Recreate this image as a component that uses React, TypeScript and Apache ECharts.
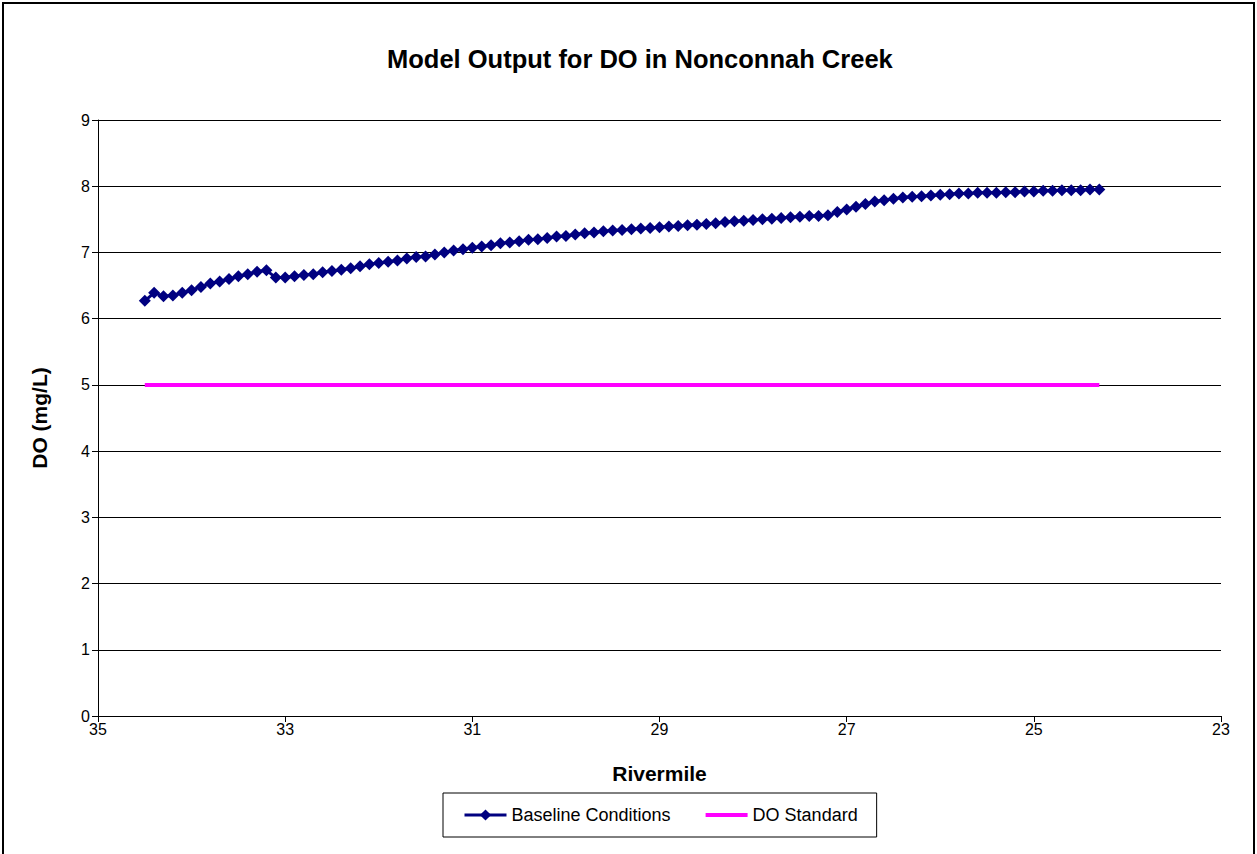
import React, { useEffect, useRef } from "react";
import * as echarts from "echarts";

const riverMile = [
  34.5, 34.4, 34.3, 34.2, 34.1, 34.0, 33.9, 33.8, 33.7, 33.6,
  33.5, 33.4, 33.3, 33.2, 33.1, 33.0, 32.9, 32.8, 32.7, 32.6,
  32.5, 32.4, 32.3, 32.2, 32.1, 32.0, 31.9, 31.8, 31.7, 31.6,
  31.5, 31.4, 31.3, 31.2, 31.1, 31.0, 30.9, 30.8, 30.7, 30.6,
  30.5, 30.4, 30.3, 30.2, 30.1, 30.0, 29.9, 29.8, 29.7, 29.6,
  29.5, 29.4, 29.3, 29.2, 29.1, 29.0, 28.9, 28.8, 28.7, 28.6,
  28.5, 28.4, 28.3, 28.2, 28.1, 28.0, 27.9, 27.8, 27.7, 27.6,
  27.5, 27.4, 27.3, 27.2, 27.1, 27.0, 26.9, 26.8, 26.7, 26.6,
  26.5, 26.4, 26.3, 26.2, 26.1, 26.0, 25.9, 25.8, 25.7, 25.6,
  25.5, 25.4, 25.3, 25.2, 25.1, 25.0, 24.9, 24.8, 24.7, 24.6,
  24.5, 24.4, 24.3,
];

const baselineDO = [
  6.27, 6.39, 6.34, 6.35, 6.39, 6.43, 6.48, 6.53, 6.56, 6.60,
  6.64, 6.67, 6.71, 6.73, 6.62, 6.62, 6.64, 6.66, 6.67, 6.70,
  6.72, 6.74, 6.76, 6.79, 6.82, 6.84, 6.86, 6.88, 6.91, 6.93,
  6.94, 6.97, 7.00, 7.03, 7.05, 7.07, 7.09, 7.11, 7.14, 7.15,
  7.17, 7.19, 7.20, 7.22, 7.24, 7.25, 7.27, 7.29, 7.30, 7.32,
  7.33, 7.34, 7.35, 7.36, 7.37, 7.38, 7.39, 7.40, 7.41, 7.42,
  7.43, 7.44, 7.46, 7.47, 7.48, 7.49, 7.50, 7.51, 7.52, 7.53,
  7.54, 7.55, 7.55, 7.56, 7.61, 7.65, 7.69, 7.73, 7.77, 7.79,
  7.81, 7.83, 7.84, 7.85, 7.86, 7.87, 7.88, 7.89, 7.89, 7.90,
  7.90, 7.90, 7.91, 7.91, 7.92, 7.92, 7.93, 7.93, 7.94, 7.94,
  7.94, 7.95, 7.95,
];

const standardMile = [34.5, 24.3];
const standardDO = [5, 5];

const xTickLabels = [35, 33, 31, 29, 27, 25, 23];
const yTickLabels = [0, 1, 2, 3, 4, 5, 6, 7, 8, 9];

const FONT = "'Liberation Sans', Arial, sans-serif";

export default function App() {
  const ref = useRef<HTMLDivElement>(null);

  useEffect(() => {
    if (!ref.current) return;
    const chart = echarts.init(ref.current, null, { renderer: "svg" });
    const baseline = riverMile.map((m, i) => [m, baselineDO[i]]);
    const standard = standardMile.map((m, i) => [m, standardDO[i]]);

    chart.setOption({
      animation: false,
      backgroundColor: "#ffffff",
      textStyle: { fontFamily: FONT },
      title: {
        text: "Model Output for DO in Nonconnah Creek",
        left: 382,
        top: 41,
        textStyle: { fontFamily: FONT, fontSize: 25.5, fontWeight: "bold", color: "#000" },
      },
      graphic: [
        {
          type: "rect",
          shape: { x: 3, y: 3, width: 1251, height: 900 },
          style: { fill: "none", stroke: "#000", lineWidth: 2 },
          silent: true,
        },
      ],
      grid: { left: 98, right: 36, top: 120, bottom: 138, containLabel: false },
      legend: {
        left: 443,
        top: 793,
        padding: [13, 19, 13, 20],
        itemGap: 33,
        itemWidth: 42,
        itemHeight: 14,
        borderColor: "#000",
        borderWidth: 1,
        textStyle: { fontFamily: FONT, fontSize: 18, color: "#000" },
        data: [
          { name: "Baseline Conditions", lineStyle: { width: 3 } },
          { name: "DO Standard", itemStyle: { opacity: 0 }, lineStyle: { width: 4 } },
        ],
      },
      xAxis: {
        type: "value",
        min: Math.min(...xTickLabels),
        max: Math.max(...xTickLabels),
        inverse: true,
        name: "Rivermile",
        nameLocation: "middle",
        nameGap: 47,
        nameTextStyle: { fontFamily: FONT, fontSize: 21, fontWeight: "bold", color: "#000" },
        axisLine: { show: true, onZero: false, lineStyle: { color: "#000", width: 1 } },
        axisTick: { show: true, length: 6, customValues: xTickLabels, lineStyle: { color: "#000" } },
        axisLabel: {
          customValues: xTickLabels,
          margin: 5,
          fontFamily: FONT,
          fontSize: 16,
          color: "#000",
        },
        splitLine: { show: false },
      },
      yAxis: {
        type: "value",
        min: yTickLabels[0],
        max: yTickLabels[yTickLabels.length - 1],
        interval: 1,
        name: "DO (mg/L)",
        nameLocation: "middle",
        nameGap: 48,
        nameTextStyle: { fontFamily: FONT, fontSize: 21, fontWeight: "bold", color: "#000" },
        axisLine: { show: true, lineStyle: { color: "#000", width: 1 } },
        axisTick: { show: true, length: 6, lineStyle: { color: "#000" } },
        axisLabel: { margin: 8, fontFamily: FONT, fontSize: 16, color: "#000" },
        splitLine: { show: true, lineStyle: { color: "#000", width: 1 } },
      },
      series: [
        {
          name: "Baseline Conditions",
          type: "line",
          data: baseline,
          symbol: "diamond",
          symbolSize: 12,
          showSymbol: true,
          itemStyle: { color: "#000080", borderWidth: 0 },
          lineStyle: { color: "#000080", width: 3 },
          z: 3,
        },
        {
          name: "DO Standard",
          type: "line",
          data: standard,
          symbol: "none",
          itemStyle: { color: "#FF00FF", opacity: 0 },
          lineStyle: { color: "#FF00FF", width: 4 },
          z: 2,
        },
      ],
    });
    return () => chart.dispose();
  }, []);

  return (
    <div
      ref={ref}
      style={{ position: "fixed", left: 0, top: 0, width: 1257, height: 854, background: "#fff" }}
    />
  );
}
